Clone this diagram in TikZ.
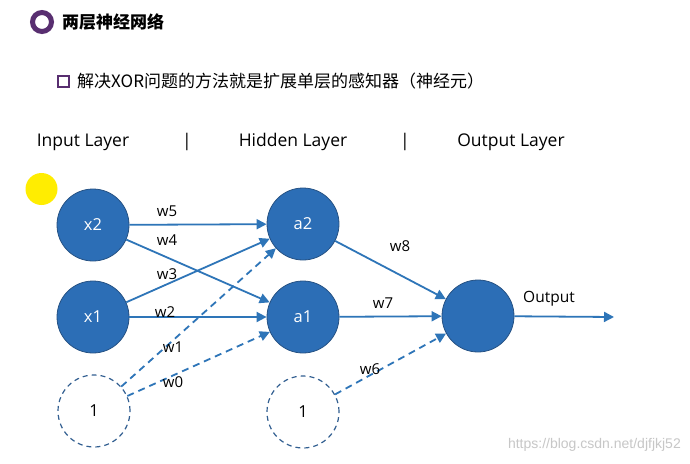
\documentclass[tikz,border=0pt]{standalone}
\usepackage{fontspec}
\setmainfont{Open Sans}
\newfontfamily\cjk{Noto Sans CJK SC}
\newfontfamily\wmfont{Liberation Sans}
\usetikzlibrary{arrows.meta}
\definecolor{nodeblue}{RGB}{44,110,182}
\definecolor{nodeedge}{RGB}{38,82,132}
\definecolor{edgeblue}{RGB}{46,117,184}
\definecolor{dashblue}{RGB}{50,95,145}
\definecolor{slidepurple}{RGB}{88,46,112}
\begin{document}
\begin{tikzpicture}[x=1pt,y=-1pt,
  neuron/.style={circle,minimum size=72pt,inner sep=0pt,fill=nodeblue,draw=nodeedge,line width=0.8pt,text=white,font=\fontsize{16.5}{18}\selectfont},
  biasnode/.style={circle,minimum size=72pt,inner sep=0pt,draw=dashblue,dashed,line width=1.2pt,dash pattern=on 5pt off 4pt,font=\fontsize{16.5}{18}\selectfont},
  conn/.style={draw=edgeblue,line width=1.8pt,-{Triangle[length=10pt,width=10pt]}},
  dconn/.style={conn,dash pattern=on 7pt off 5pt},
  wlabel/.style={font=\fontsize{15}{17}\selectfont,inner sep=0pt},
  header/.style={font=\fontsize{17.5}{20}\selectfont,inner sep=0pt}]
\useasboundingbox (0,0) rectangle (690,463);
\fill[white] (0,0) rectangle (690,463);
% title
\draw[slidepurple,line width=5pt] (42,22) circle (9.5pt);
\node[anchor=west,inner sep=0pt,font=\cjk\bfseries\fontsize{17}{19}\selectfont] (title) at (62,22) {两层神经网络};
\draw[slidepurple,line width=2pt] (57.5,75.5) rectangle (69,87);
\node[anchor=west,inner sep=0pt,font=\cjk\fontsize{17}{20}\selectfont] (sub) at (77,81) {解决XOR问题的方法就是扩展单层的感知器（神经元）};
% headers
\node[header] (hin) at (83,142) {Input Layer};
\node[header] (s1) at (187,142) {|};
\node[header] (hhid) at (293,142) {Hidden Layer};
\node[header] (s2) at (405,142) {|};
\node[header] (hout) at (511,142) {Output Layer};
% yellow marker
\fill[yellow!95!orange] (41.5,189) circle (16pt);
% nodes
\node[neuron] (x2) at (93,225) {x2};
\node[neuron] (x1) at (93,317) {x1};
\node[biasnode] (b1) at (94,411) {1};
\node[neuron] (a2) at (303,224) {a2};
\node[neuron] (a1) at (303,317) {a1};
\node[biasnode] (b2) at (303,412) {1};
\node[neuron] (out) at (478,316) {};
\coordinate (oend) at (614,317);
% connections
\draw[conn] (x2) -- (a2);
\draw[conn] (x2) -- (a1);
\draw[conn] (x1) -- (a2);
\draw[conn] (x1) -- (a1);
\draw[dconn] (b1) -- (a2);
\draw[dconn] (b1) -- (a1);
\draw[conn] (a2) -- (out);
\draw[conn] (a1) -- (out);
\draw[dconn] (b2) -- (out);
\draw[conn] (out) -- (oend);
% weight labels
\node[wlabel] (w5) at (167,211) {w5};
\node[wlabel] (w4) at (167,240) {w4};
\node[wlabel] (w3) at (167,274) {w3};
\node[wlabel] (w2) at (165,312) {w2};
\node[wlabel] (w1) at (173,347) {w1};
\node[wlabel] (w0) at (173,382) {w0};
\node[wlabel] (w8) at (400,246) {w8};
\node[wlabel] (w7) at (383,303) {w7};
\node[wlabel] (w6) at (370,369) {w6};
\node[wlabel,font=\fontsize{15.5}{17}\selectfont] (olab) at (549,299) {Output};
% watermark
\node[anchor=east,inner sep=0pt,text=black!22,font=\wmfont\fontsize{14}{16}\selectfont] (wm) at (681,445) {https://blog.csdn.net/djfjkj52};
\end{tikzpicture}
\end{document}
